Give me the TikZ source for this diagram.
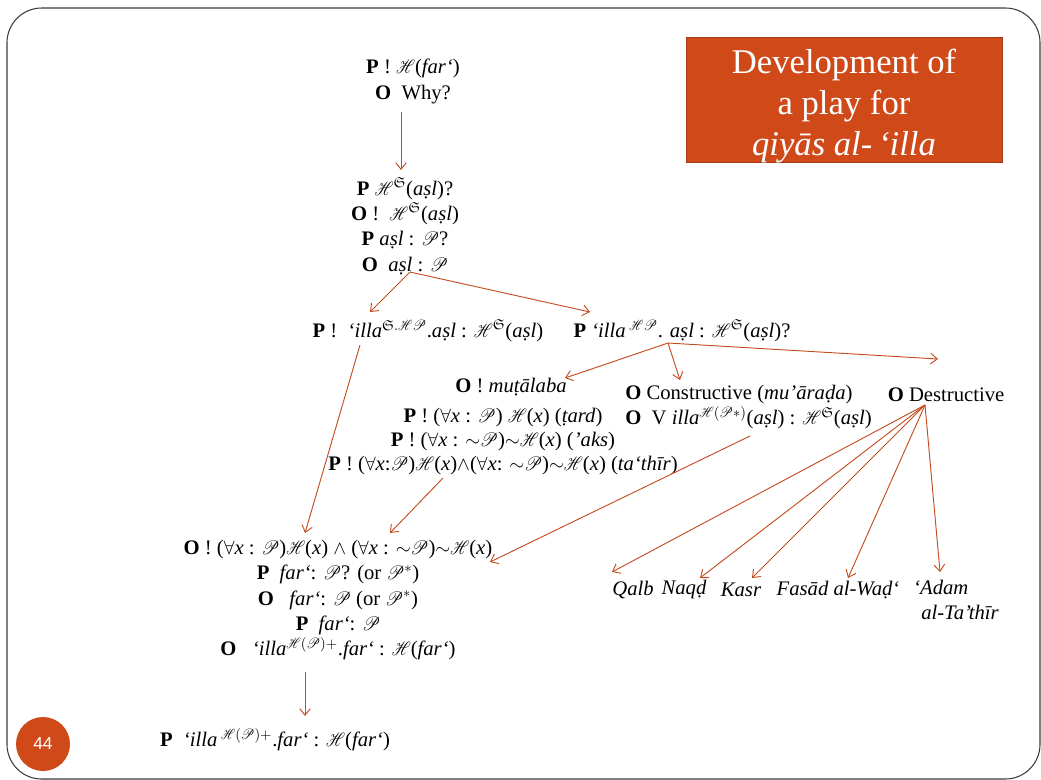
\documentclass[tikz,border=0pt]{standalone}
\usepackage{amsmath}
\usepackage{amssymb}
\usepackage{mathrsfs}
\usepackage{graphicx}
\usepackage{fontspec}
\setmainfont{Liberation Serif}
\newfontfamily\numfont{Liberation Sans}
\usetikzlibrary{arrows.meta}
\definecolor{accent}{RGB}{208,73,24}
\definecolor{arrowc}{RGB}{196,76,32}
\definecolor{framec}{RGB}{60,60,60}
\newcommand{\sH}{\mathord{\text{\scalebox{0.78}[1]{$\mathscr{H}$}}}}
\newcommand{\sP}{\mathord{\text{\scalebox{0.85}[1]{$\mathscr{P}$}}}}
\newcommand{\fS}{\mathfrak{S}}
\newcommand{\nt}{\mathord{\sim}}
\tikzset{
  txt/.style={inner sep=0pt, font=\fontsize{15.5}{19}\selectfont},
  arr/.style={draw=arrowc, line width=0.7pt, -{Straight Barb[length=5pt,width=8pt]}},
}
\begin{document}
\begin{tikzpicture}[x=0.75pt,y=-0.75pt]
\useasboundingbox (0,0) rectangle (1041,779);
\draw[framec, line width=0.8pt, rounded corners=26pt] (7,8) rectangle (1040,779);

% title box
\node[fill=accent, draw=accent!80!black, line width=0.4pt, minimum width=316*0.75pt, minimum height=125*0.75pt, anchor=north west, inner sep=0pt] (title) at (686,37) {};
\node[inner sep=0pt, text=white, align=center, font=\fontsize{26}{31}\selectfont] (titletxt) at (844,106) {Development of\\ a play for\\ \textit{qiyās al-\,‘illa}};

% page number
\node[circle, fill=accent, minimum size=54*0.75pt, inner sep=0pt, text=white, font=\numfont\fontsize{13}{15}\selectfont] (num) at (43,744) {44};

% nodes
\node[txt, align=center, anchor=north] (n1) at (413,59)
  {\textbf{P} ! $\sH$(\textit{far‘})\\ \textbf{O}\ \ Why?};
\node[txt, align=center, anchor=north] (n2) at (405,177)
  {\textbf{P} $\sH^{\fS}$(\textit{aṣl})?\\
   \textbf{O} !\ \ $\sH^{\fS}$(\textit{aṣl})\\
   \textbf{P} \textit{aṣl} : $\sP$?\\
   \textbf{O}\ \ \textit{aṣl} : $\sP$};
\node[txt] (n3) at (428,331)
  {\textbf{P} !\ \ \textit{‘illa}$^{\fS.\sH\sP}$.\textit{aṣl} : $\sH^{\fS}$(\textit{aṣl})};
\node[txt] (n4) at (682,331)
  {\textbf{P} \textit{‘illa}\,$^{\sH\sP}$. \textit{aṣl} : $\sH^{\fS}$(\textit{aṣl})?};
\node[txt] (mut) at (511,387) {\textbf{O} ! \textit{muṭālaba}};
\node[txt, align=center, anchor=north, font=\fontsize{15.5}{18}\selectfont] (rules) at (503,408)
  {\textbf{P} ! ($\forall$\textit{x} : $\sP$) $\sH$(\textit{x}) (\textit{ṭard})\\
   \textbf{P} ! ($\forall$\textit{x} : $\nt\sP$)$\nt\sH$(\textit{x}) (\textit{’aks})\\
   \textbf{P} ! ($\forall$\textit{x}:$\sP$)$\sH$(\textit{x})$\wedge$($\forall$\textit{x}: $\nt\sP$)$\nt\sH$(\textit{x}) (\textit{ta‘thīr})};
\node[txt, align=left, anchor=north west] (cons) at (625,385)
  {\textbf{O} Constructive (\textit{mu’āraḍa})\\
   \textbf{O}\ \ V \textit{illa}$^{\sH(\sP*)}$(\textit{aṣl}) : $\sH^{\fS}$(\textit{aṣl})};
\node[txt] (dest) at (946,395) {\textbf{O} Destructive};
\node[txt, align=center, anchor=north] (n6) at (338,540)
  {\textbf{O} ! ($\forall$\textit{x} : $\sP$)$\sH$(\textit{x}) $\wedge$ ($\forall$\textit{x} : $\nt\sP$)$\nt\sH$(\textit{x})\\
   \textbf{P}\ \ \textit{far‘}: $\sP$? (or $\sP^{*}$)\\
   \textbf{O}\ \ \ \textit{far‘}: $\sP$ (or $\sP^{*}$)\\
   \textbf{P}\ \ \textit{far‘}: $\sP$\\
   \textbf{O}\ \ \ \textit{‘illa}$^{\sH(\sP)+}$.\textit{far‘} : $\sH$(\textit{far‘})};
\node[txt] (n7) at (275,740)
  {\textbf{P}\ \ \textit{‘illa}\,$^{\sH(\sP)+}$.\textit{far‘} : $\sH$(\textit{far‘})};
\node[txt] (qalb) at (633,590) {\textit{Qalb}};
\node[txt] (naqd) at (684,590) {\textit{Naqḍ}};
\node[txt] (kasr) at (741,590) {\textit{Kasr}};
\node[txt] (fasad) at (838,590) {\textit{Fasād al-Waḍ‘}};
\node[txt, align=left, anchor=north west] (adam) at (913,580) {\textit{‘Adam}\\ \hspace*{6pt}\textit{al-Ta’thīr}};

% connectors
\draw[arr] ([shift={(-12,53)}]n1.north) -- ([shift={(-4,-7)}]n2.north);
\draw[arr] ([shift={(5,95)}]n2.north) -- ([shift={(-58,-19)}]n3.center);
\draw[arr] ([shift={(5,95)}]n2.north) -- ([shift={(-92,-19)}]n4.center);
\draw[arr] ([shift={(-68,14)}]n3.center) -- ([shift={(-33,-7)}]n6.north);
\draw[arr] ([shift={(-14,12)}]n4.center) -- ([shift={(54,-9)}]mut.center);
\draw[arr] ([shift={(-14,12)}]n4.center) -- ([shift={(55,-5)}]cons.north west);
\draw[arr] ([shift={(-14,12)}]n4.center) -- ([shift={(-8,-36)}]dest.center);
\draw[arr] ([shift={(-60,70)}]rules.north) -- ([shift={(52,-7)}]n6.north);
\draw[arr] ([shift={(125,51)}]cons.north west) -- ([shift={(152,22)}]n6.north);
\draw[arr] ([shift={(-21,10)}]dest.center) -- ([shift={(-21,-18)}]qalb.center);
\draw[arr] ([shift={(-21,10)}]dest.center) -- ([shift={(16,-12)}]naqd.center);
\draw[arr] ([shift={(-21,10)}]dest.center) -- ([shift={(11,-12)}]kasr.center);
\draw[arr] ([shift={(-21,10)}]dest.center) -- ([shift={(10,-12)}]fasad.center);
\draw[arr] ([shift={(-21,10)}]dest.center) -- ([shift={(27,-8)}]adam.north west);
\draw[arr] ([shift={(-33,132)}]n6.north) -- ([shift={(30,-24)}]n7.center);
\end{tikzpicture}
\end{document}
